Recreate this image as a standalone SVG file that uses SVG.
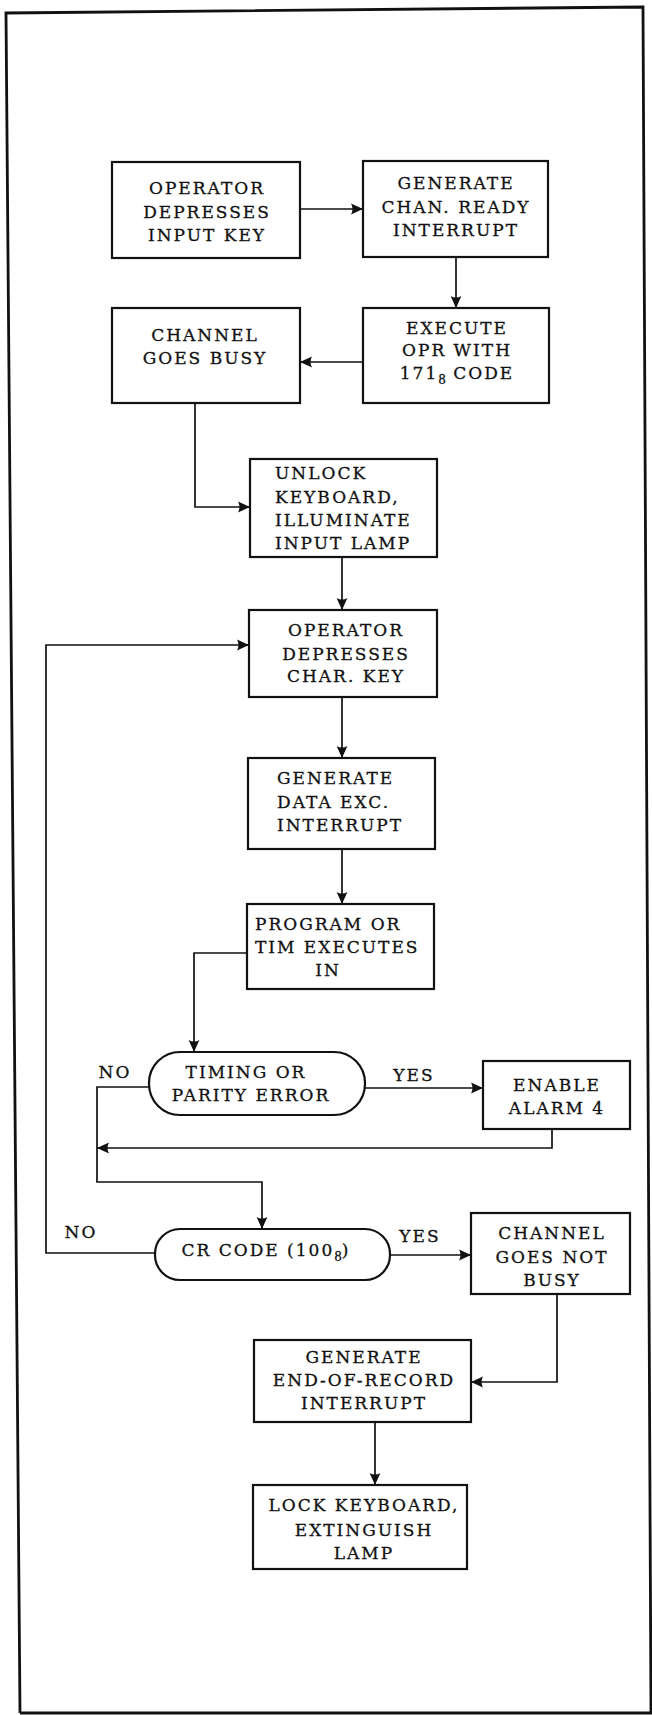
<svg xmlns="http://www.w3.org/2000/svg" width="652" height="1715" viewBox="0 0 652 1715">
<style>
.box{fill:#fff;stroke:#111;stroke-width:2.2}
.t{font-family:"DejaVu Serif","Liberation Serif",serif;font-size:17px;fill:#111;stroke:#111;stroke-width:0.3;letter-spacing:2px;text-anchor:middle}
.l{text-anchor:start}
.c{fill:none;stroke:#111;stroke-width:1.7}
.frame{fill:none;stroke:#111;stroke-width:2.8}
.sub{font-size:12px;letter-spacing:0}
</style>
<defs>
<marker id="ah" viewBox="0 0 10 10" refX="10" refY="5" markerWidth="13" markerHeight="12" markerUnits="userSpaceOnUse" orient="auto">
<path d="M0,0.5 L10,5 L0,9.5 Q2.5,5 0,0.5 Z" fill="#111"/>
</marker>
</defs>
<polyline class="frame" points="20,1713 6,13 643,7 651,1713 20,1713"/>
<g id="connectors">
<path class="c" d="M300,209 H363" marker-end="url(#ah)"/>
<path class="c" d="M456,258 V308" marker-end="url(#ah)"/>
<path class="c" d="M363,362 H300" marker-end="url(#ah)"/>
<path class="c" d="M195,403 V507 H250" marker-end="url(#ah)"/>
<path class="c" d="M342,557 V610" marker-end="url(#ah)"/>
<path class="c" d="M155,1253 H46 V645 H249" marker-end="url(#ah)"/>
<path class="c" d="M342,697 V758" marker-end="url(#ah)"/>
<path class="c" d="M342,849 V904" marker-end="url(#ah)"/>
<path class="c" d="M247,953 H194 V1052" marker-end="url(#ah)"/>
<path class="c" d="M149,1087 H97 V1182 H262 V1229" marker-end="url(#ah)"/>
<path class="c" d="M365,1088 H483" marker-end="url(#ah)"/>
<path class="c" d="M552,1129 V1148 H97" marker-end="url(#ah)"/>
<path class="c" d="M390,1255 H471" marker-end="url(#ah)"/>
<path class="c" d="M557,1294 V1382 H471" marker-end="url(#ah)"/>
<path class="c" d="M375,1422 V1485" marker-end="url(#ah)"/>
<text class="t" x="115" y="1078">NO</text>
<text class="t" x="414" y="1081">YES</text>
<text class="t" x="81" y="1238">NO</text>
<text class="t" x="420" y="1242">YES</text>
</g>
<g id="n1"><rect class="box" x="112" y="162" width="188" height="96"/>
<text class="t" x="207" y="194">OPERATOR</text><text class="t" x="207" y="218">DEPRESSES</text><text class="t" x="207" y="241">INPUT KEY</text></g>
<g id="n2"><rect class="box" x="363" y="161" width="185" height="96"/>
<text class="t" x="456" y="189">GENERATE</text><text class="t" x="456" y="213">CHAN. READY</text><text class="t" x="456" y="236">INTERRUPT</text></g>
<g id="n3"><rect class="box" x="363" y="308" width="186" height="95"/>
<text class="t" x="457" y="334">EXECUTE</text><text class="t" x="457" y="356">OPR WITH</text><text class="t" x="457" y="379">171<tspan class="sub" dy="5">8</tspan><tspan dy="-5"> CODE</tspan></text></g>
<g id="n4"><rect class="box" x="112" y="308" width="188" height="95"/>
<text class="t" x="205" y="341">CHANNEL</text><text class="t" x="205" y="364">GOES BUSY</text></g>
<g id="n5"><rect class="box" x="250" y="459" width="187" height="98"/>
<text class="t l" x="275" y="479">UNLOCK</text><text class="t l" x="275" y="503">KEYBOARD,</text><text class="t l" x="275" y="526">ILLUMINATE</text><text class="t l" x="275" y="549">INPUT LAMP</text></g>
<g id="n6"><rect class="box" x="249" y="610" width="188" height="87"/>
<text class="t" x="346" y="636">OPERATOR</text><text class="t" x="346" y="660">DEPRESSES</text><text class="t" x="346" y="682">CHAR. KEY</text></g>
<g id="n7"><rect class="box" x="248" y="758" width="187" height="91"/>
<text class="t l" x="277" y="784">GENERATE</text><text class="t l" x="277" y="808">DATA EXC.</text><text class="t l" x="277" y="831">INTERRUPT</text></g>
<g id="n8"><rect class="box" x="247" y="904" width="187" height="85"/>
<text class="t l" x="255" y="930">PROGRAM OR</text><text class="t l" x="255" y="953">TIM EXECUTES</text><text class="t" x="328" y="976">IN</text></g>
<g id="d1"><rect class="box" x="149" y="1052" width="216" height="63" rx="31" ry="31"/>
<text class="t" x="246" y="1078">TIMING OR</text><text class="t" x="251" y="1101">PARITY ERROR</text></g>
<g id="n9"><rect class="box" x="483" y="1061" width="147" height="68"/>
<text class="t" x="557" y="1091">ENABLE</text><text class="t" x="557" y="1114">ALARM 4</text></g>
<g id="d2"><rect class="box" x="155" y="1229" width="235" height="51" rx="25" ry="25"/>
<text class="t" x="266" y="1256">CR CODE (100<tspan class="sub" dy="5">8</tspan><tspan dy="-5">)</tspan></text></g>
<g id="n10"><rect class="box" x="471" y="1213" width="159" height="81"/>
<text class="t" x="552" y="1239">CHANNEL</text><text class="t" x="552" y="1263">GOES NOT</text><text class="t" x="552" y="1286">BUSY</text></g>
<g id="n11"><rect class="box" x="254" y="1340" width="217" height="82"/>
<text class="t" x="364" y="1363">GENERATE</text><text class="t" x="364" y="1386">END-OF-RECORD</text><text class="t" x="364" y="1409">INTERRUPT</text></g>
<g id="n12"><rect class="box" x="253" y="1485" width="214" height="84"/>
<text class="t" x="364" y="1511">LOCK KEYBOARD,</text><text class="t" x="364" y="1536">EXTINGUISH</text><text class="t" x="364" y="1559">LAMP</text></g>
</svg>
